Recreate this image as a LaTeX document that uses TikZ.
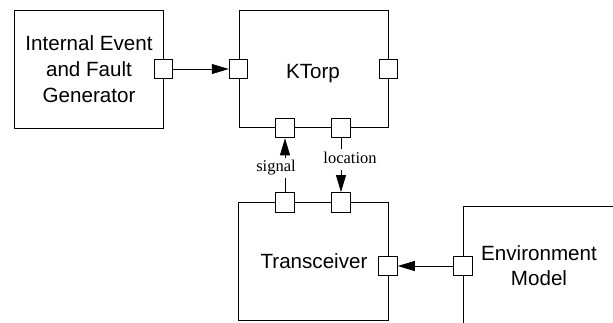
\documentclass[tikz,border=0pt]{standalone}
\usepackage{fontspec}
\setmainfont{Liberation Sans}
\newfontfamily\labelserif{Liberation Serif}
\usetikzlibrary{arrows.meta}
\begin{document}
\begin{tikzpicture}[x=1pt,y=-1pt,
  blk/.style={draw, line width=1pt, inner sep=0pt},
  port/.style={draw, fill=white, line width=1pt, minimum width=18.5pt, minimum height=19.5pt, inner sep=0pt},
  conn/.style={line width=0.75pt, -{Triangle[length=17pt,width=10pt]}},
  lbl/.style={font=\labelserif\fontsize{16.5}{18}\selectfont, fill=white, inner sep=3pt, text height=11pt, text depth=3.5pt},
  txt/.style={font=\fontsize{20.6}{26}\selectfont, align=center, inner sep=0pt}]
\useasboundingbox (0,0) rectangle (613,322);
\clip (0,0) rectangle (613,322);
% blocks
\node[blk, minimum width=149pt, minimum height=118pt] (gen) at (88.5,69) {};
\node[blk, minimum width=149.5pt, minimum height=117.5pt] (ktorp) at (313.75,68.75) {};
\node[blk, minimum width=149.8pt, minimum height=117.7pt] (trx) at (313.4,261.2) {};
\node[blk, minimum width=300pt, minimum height=260pt, anchor=north west] (env) at (463.3,206) {};
% texts
\node[txt, anchor=north] (gentxt) at (89,35.25) {Internal Event\\and Fault\\Generator};
\node[txt, anchor=base] (ktorptxt) at (313,78.3) {KTorp};
\node[txt, anchor=base] (trxtxt) at (314,268.3) {Transceiver};
\node[txt, anchor=north, font=\fontsize{20.6}{25}\selectfont] (envtxt) at (539,245) {Environment\\Model};
% ports
\node[port] (p1) at (163.5,69) {};
\node[port] (p2) at (238.5,69) {};
\node[port] (p3) at (388.5,69) {};
\node[port] (p4) at (285,128) {};
\node[port] (p5) at (341,128) {};
\node[port] (p6) at (285,202.3) {};
\node[port] (p7) at (341,202.3) {};
\node[port] (p8) at (388,266) {};
\node[port] (p9) at (463,266) {};
% connectors
\draw[conn] (p1) -- (p2);
\draw[conn] (p9) -- (p8);
\draw[conn] (p6) -- node[lbl, pos=0.443, xshift=-9pt] (siglbl) {signal} (p4);
\draw[conn] (p5) -- node[lbl, pos=0.399, xshift=9pt] (loclbl) {location} (p7);
\end{tikzpicture}
\end{document}
